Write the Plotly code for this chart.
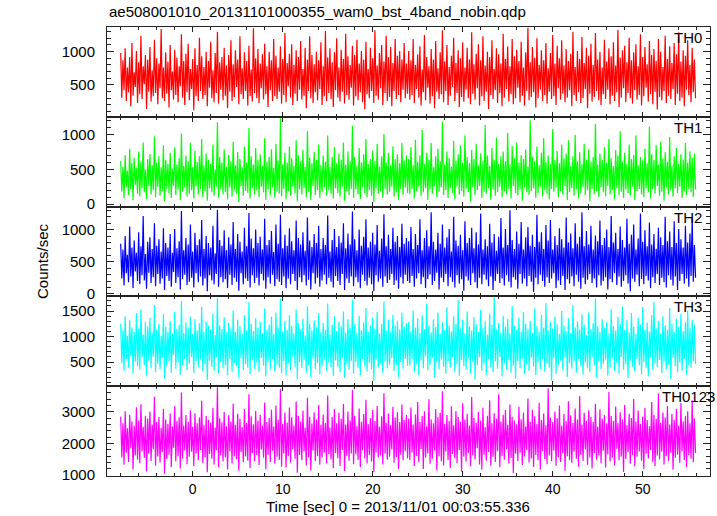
import plotly.graph_objects as go

# ---------------- data ----------------
T_START = -8.0    # sec, first sample
BIN = 0.125       # sec, sample spacing used here

TH0 = [
    980, 310, 870, 420, 1050, 260, 760, 390, 920, 180, 1130, 340, 690, 470, 1010, 230,
    840, 360, 1240, 290, 780, 510, 950, 140, 880, 400, 1070, 250, 720, 330, 1180, 380,
    900, 210, 820, 450, 1340, 300, 760, 260, 990, 370, 850, 160, 1100, 420, 700, 280,
    1030, 350, 910, 240, 780, 480, 1260, 310, 860, 200, 970, 390, 1120, 270, 740, 440,
    890, 120, 1050, 330, 800, 260, 1210, 410, 930, 290, 770, 350, 1000, 180, 860, 460,
    1150, 300, 720, 240, 980, 380, 1300, 220, 840, 430, 920, 270, 1060, 340, 790, 150,
    950, 400, 1170, 260, 810, 320, 1020, 470, 880, 210, 1230, 360, 750, 290, 990, 410,
    860, 190, 1090, 330, 730, 250, 1350, 380, 900, 300, 1040, 230, 820, 450, 960, 280,
    1120, 360, 780, 170, 1000, 420, 870, 260, 1190, 330, 940, 290, 760, 400, 1080, 220,
    890, 350, 1280, 240, 830, 480, 970, 310, 1110, 200, 800, 370, 1020, 260, 920, 430,
    1160, 280, 740, 340, 1060, 150, 880, 410, 1230, 300, 950, 230, 810, 390, 1000, 270,
    870, 440, 1140, 200, 780, 330, 1310, 260, 910, 380, 1050, 290, 840, 170, 990, 420,
    1200, 310, 760, 250, 1030, 400, 890, 220, 1270, 350, 930, 280, 800, 460, 1090, 190,
    950, 330, 1180, 270, 820, 390, 1010, 240, 880, 130, 1150, 360, 740, 300, 1060, 410,
    900, 230, 1320, 340, 790, 280, 980, 450, 1100, 200, 850, 380, 1240, 260, 920, 320,
    1070, 180, 830, 410, 1190, 290, 940, 350, 1010, 240, 880, 430, 1130, 300, 820, 370,
    1010, 280, 870, 350, 1190, 230, 800, 440, 960, 310, 1080, 190, 730, 390, 1250, 270,
    920, 460, 780, 220, 1040, 330, 880, 150, 1160, 400, 750, 290, 990, 360, 1320, 240,
    850, 410, 1100, 200, 770, 340, 940, 470, 1210, 260, 830, 380, 1020, 170, 900, 320,
    1140, 250, 760, 430, 1060, 300, 880, 210, 1290, 370, 810, 280, 970, 450, 1110, 190,
    870, 330, 1230, 260, 790, 400, 1000, 140, 920, 350, 1170, 290, 740, 420, 1050, 230,
    960, 380, 820, 180, 1270, 310, 890, 440, 1080, 250, 780, 360, 1190, 210, 930, 300,
    1030, 460, 860, 240, 1150, 340, 760, 190, 990, 410, 1360, 270, 840, 320, 1070, 390,
    910, 160, 1200, 300, 800, 430, 1020, 260, 870, 350, 1130, 220, 750, 400, 980, 290,
    1250, 330, 820, 200, 1090, 450, 900, 280, 1170, 370, 790, 240, 1040, 310, 860, 420,
    970, 180, 1300, 350, 770, 260, 1010, 390, 890, 230, 1220, 300, 830, 440, 1060, 150,
    940, 370, 1120, 250, 800, 320, 1280, 410, 880, 270, 1000, 200, 760, 360, 1180, 290,
    850, 430, 1050, 210, 930, 340, 1140, 260, 790, 390, 1330, 170, 910, 310, 1020, 450,
    1090, 240, 840, 380, 1210, 300, 870, 220, 990, 420, 1110, 280, 780, 350, 1260, 190,
    920, 330, 1070, 460, 810, 250, 1160, 360, 950, 210, 1040, 400, 860, 130, 1190, 320,
    1000, 270, 770, 410, 1240, 230, 890, 340, 1080, 290, 830, 440, 1130, 200, 960, 370,
    1290, 260, 850, 310, 1020, 180, 940, 430, 1170, 350, 800, 240, 1060, 390, 880, 300,
]

TH1 = [
    620, 180, 540, 90, 710, 240, 480, 130, 800, 210, 590, 60, 670, 280, 520, 150,
    760, 110, 610, 230, 890, 170, 500, 70, 650, 260, 720, 140, 560, 200, 980, 100,
    600, 250, 690, 120, 530, 190, 850, 40, 640, 220, 580, 160, 740, 90, 510, 270,
    820, 130, 570, 210, 660, 60, 1020, 180, 550, 240, 700, 110, 620, 150, 880, 200,
    530, 80, 770, 260, 610, 140, 690, 220, 940, 100, 560, 190, 730, 50, 640, 230,
    580, 170, 860, 120, 500, 250, 1180, 90, 680, 210, 600, 140, 790, 180, 540, 70,
    710, 240, 620, 110, 900, 200, 560, 150, 750, 30, 650, 260, 530, 120, 830, 190,
    600, 160, 1100, 80, 690, 230, 570, 140, 810, 200, 640, 100, 720, 250, 550, 170,
    950, 60, 610, 210, 680, 130, 790, 240, 520, 90, 870, 180, 630, 150, 1240, 110,
    570, 220, 740, 70, 600, 190, 830, 120, 660, 250, 550, 160, 920, 40, 700, 210,
    620, 140, 780, 230, 540, 100, 1050, 180, 670, 60, 590, 260, 750, 130, 640, 200,
    860, 90, 560, 170, 700, 240, 610, 120, 990, 200, 530, 150, 680, 80, 820, 230,
    590, 160, 730, 110, 640, 250, 890, 50, 570, 190, 760, 130, 620, 220, 1130, 90,
    680, 210, 550, 140, 810, 70, 600, 240, 720, 160, 940, 100, 580, 200, 650, 120,
    770, 30, 620, 230, 870, 150, 540, 190, 690, 90, 1010, 220, 600, 140, 740, 180,
    560, 250, 830, 110, 650, 170, 720, 60, 590, 210, 880, 130, 630, 240, 700, 160,
    650, 140, 820, 220, 560, 80, 930, 190, 610, 250, 700, 120, 1070, 170, 580, 230,
    740, 60, 640, 210, 880, 150, 530, 260, 690, 100, 800, 180, 620, 240, 1190, 130,
    570, 200, 760, 90, 660, 230, 540, 160, 910, 70, 630, 250, 720, 140, 850, 190,
    600, 110, 990, 220, 680, 170, 590, 40, 780, 240, 650, 130, 870, 200, 560, 260,
    730, 90, 620, 180, 1140, 150, 700, 230, 550, 60, 810, 210, 640, 120, 960, 170,
    580, 250, 690, 100, 760, 190, 620, 140, 1030, 220, 570, 80, 840, 260, 660, 160,
    890, 120, 600, 210, 710, 50, 650, 240, 790, 170, 540, 130, 1210, 190, 680, 230,
    620, 90, 830, 160, 560, 250, 740, 110, 950, 200, 610, 150, 700, 70, 580, 220,
    1080, 180, 640, 240, 770, 100, 590, 190, 860, 140, 660, 260, 730, 60, 920, 170,
    550, 230, 690, 120, 1000, 210, 620, 80, 750, 160, 580, 250, 870, 130, 640, 200,
    790, 40, 610, 220, 680, 150, 1160, 190, 570, 100, 730, 240, 640, 170, 820, 110,
    600, 260, 940, 140, 660, 200, 550, 70, 780, 230, 700, 130, 1050, 180, 620, 90,
    740, 210, 580, 160, 860, 120, 650, 250, 710, 60, 990, 190, 560, 220, 680, 140,
    630, 100, 800, 230, 590, 170, 1120, 80, 720, 210, 640, 150, 850, 260, 570, 120,
    900, 180, 660, 50, 750, 240, 610, 140, 970, 200, 550, 110, 690, 230, 810, 160,
    580, 250, 720, 90, 640, 190, 880, 130, 600, 220, 760, 170, 670, 100, 730, 210,
]

TH2 = [
    780, 240, 690, 130, 900, 320, 610, 180, 1050, 270, 720, 90, 830, 350, 640, 200,
    960, 150, 740, 290, 1210, 210, 620, 80, 810, 330, 880, 170, 700, 260, 1100, 120,
    750, 310, 850, 160, 660, 240, 1020, 60, 790, 280, 720, 200, 930, 110, 640, 340,
    1010, 170, 710, 260, 820, 70, 1290, 230, 680, 300, 870, 140, 770, 190, 1080, 250,
    660, 100, 950, 320, 760, 180, 850, 270, 1150, 130, 700, 240, 900, 40, 790, 290,
    720, 210, 1060, 150, 630, 310, 1310, 110, 840, 260, 750, 180, 990, 230, 680, 90,
    880, 300, 770, 140, 1120, 250, 700, 190, 930, 50, 810, 320, 660, 150, 1030, 240,
    740, 200, 1260, 100, 860, 290, 710, 170, 1000, 250, 790, 130, 890, 310, 690, 210,
    1170, 80, 760, 260, 840, 160, 980, 300, 650, 120, 1080, 230, 780, 190, 1230, 140,
    710, 270, 920, 90, 750, 240, 1020, 150, 820, 310, 680, 200, 1140, 60, 870, 260,
    770, 180, 960, 290, 670, 130, 1190, 220, 830, 70, 730, 320, 930, 160, 790, 250,
    1060, 110, 700, 210, 870, 300, 760, 150, 1220, 250, 660, 190, 840, 100, 1010, 280,
    730, 200, 900, 140, 800, 310, 1100, 60, 710, 240, 940, 170, 770, 270, 1280, 120,
    850, 260, 680, 180, 1000, 90, 750, 300, 890, 200, 1160, 130, 720, 250, 810, 150,
    950, 40, 770, 290, 1070, 190, 670, 240, 860, 110, 1240, 270, 740, 170, 920, 220,
    700, 310, 1030, 140, 810, 210, 900, 80, 730, 260, 1090, 160, 780, 300, 870, 200,
    820, 170, 1040, 280, 700, 110, 930, 240, 760, 320, 1160, 150, 680, 260, 870, 90,
    990, 230, 740, 300, 1270, 140, 810, 200, 690, 330, 950, 70, 780, 250, 1080, 180,
    720, 310, 880, 120, 1010, 260, 660, 190, 1200, 100, 830, 290, 750, 160, 920, 230,
    680, 50, 1130, 270, 790, 210, 870, 140, 1030, 320, 710, 180, 960, 90, 770, 250,
    1250, 150, 690, 300, 850, 220, 740, 120, 1090, 270, 800, 60, 930, 200, 670, 310,
    890, 170, 1180, 240, 720, 130, 1010, 290, 760, 190, 1300, 100, 840, 260, 700, 220,
    970, 80, 780, 310, 1120, 160, 690, 240, 880, 120, 1040, 280, 750, 190, 920, 30,
    730, 250, 1230, 150, 810, 300, 960, 200, 700, 110, 1070, 260, 830, 170, 1150, 240,
    690, 320, 900, 90, 760, 210, 1020, 140, 850, 280, 720, 60, 1190, 230, 800, 160,
    940, 270, 710, 120, 1100, 300, 780, 190, 890, 80, 1270, 250, 740, 150, 980, 220,
    770, 310, 1060, 170, 690, 240, 910, 100, 820, 290, 1140, 130, 760, 200, 870, 260,
    1000, 70, 730, 230, 1210, 180, 800, 320, 950, 140, 700, 270, 1050, 110, 840, 200,
    720, 290, 1170, 160, 780, 40, 920, 240, 1080, 190, 690, 300, 860, 120, 1250, 230,
    810, 150, 990, 280, 740, 210, 1110, 90, 770, 260, 930, 170, 700, 310, 1030, 140,
    880, 250, 760, 180, 1200, 100, 820, 290, 970, 220, 730, 130, 1130, 270, 790, 60,
    1010, 200, 850, 310, 720, 160, 1060, 240, 800, 110, 940, 280, 1180, 190, 760, 250,
]

TH3 = [
    1250, 480, 1120, 330, 1400, 560, 1010, 390, 1320, 620, 1180, 270, 1090, 510, 1460, 420,
    1160, 350, 1530, 590, 1040, 440, 1290, 230, 1200, 530, 1370, 380, 1080, 610, 1620, 300,
    1130, 470, 1250, 360, 1010, 580, 1440, 180, 1190, 420, 1100, 520, 1310, 290, 1060, 640,
    1480, 370, 1150, 490, 1230, 250, 1700, 430, 1070, 560, 1280, 340, 1170, 470, 1390, 600,
    1050, 280, 1340, 510, 1120, 400, 1260, 550, 1580, 320, 1090, 460, 1300, 150, 1210, 530,
    1140, 410, 1450, 330, 1030, 590, 1760, 270, 1220, 500, 1150, 380, 1380, 440, 1080, 240,
    1270, 560, 1160, 310, 1510, 480, 1090, 420, 1330, 200, 1200, 570, 1060, 350, 1420, 460,
    1120, 390, 1680, 260, 1250, 540, 1110, 370, 1360, 490, 1180, 300, 1290, 580, 1070, 430,
    1550, 220, 1140, 500, 1230, 360, 1390, 560, 1050, 310, 1470, 450, 1170, 390, 1740, 280,
    1100, 520, 1310, 240, 1130, 470, 1420, 340, 1210, 590, 1060, 410, 1530, 170, 1260, 500,
    1150, 380, 1350, 540, 1020, 290, 1600, 440, 1240, 210, 1120, 570, 1320, 360, 1180, 480,
    1460, 260, 1090, 420, 1270, 550, 1140, 330, 1650, 490, 1040, 400, 1230, 230, 1400, 530,
    1110, 410, 1290, 300, 1200, 580, 1490, 190, 1080, 460, 1340, 350, 1170, 520, 1720, 270,
    1240, 500, 1070, 390, 1410, 240, 1130, 560, 1280, 420, 1560, 310, 1100, 480, 1220, 360,
    1370, 130, 1160, 540, 1480, 400, 1060, 470, 1250, 280, 1690, 510, 1120, 380, 1330, 450,
    1090, 580, 1430, 320, 1210, 440, 1300, 210, 1140, 500, 1470, 370, 1190, 560, 1260, 430,
    1290, 430, 1100, 560, 1510, 300, 1180, 470, 1360, 240, 1070, 530, 1420, 380, 1150, 610,
    1640, 340, 1220, 450, 1080, 580, 1340, 200, 1190, 490, 1470, 360, 1050, 550, 1280, 410,
    1130, 270, 1570, 520, 1210, 390, 1100, 600, 1400, 310, 1250, 460, 1710, 230, 1160, 540,
    1330, 420, 1060, 350, 1490, 570, 1200, 280, 1120, 500, 1380, 160, 1240, 440, 1090, 590,
    1520, 330, 1170, 480, 1300, 250, 1040, 560, 1450, 400, 1230, 300, 1780, 510, 1140, 370,
    1270, 600, 1080, 220, 1410, 470, 1190, 350, 1350, 540, 1060, 290, 1600, 430, 1210, 180,
    1130, 520, 1370, 380, 1100, 570, 1480, 260, 1250, 450, 1150, 330, 1310, 590, 1070, 410,
    1550, 240, 1200, 500, 1090, 360, 1430, 550, 1180, 310, 1660, 470, 1120, 390, 1290, 140,
    1160, 580, 1390, 270, 1240, 440, 1050, 530, 1500, 340, 1220, 600, 1110, 210, 1360, 480,
    1070, 370, 1620, 510, 1180, 290, 1300, 560, 1140, 420, 1440, 250, 1230, 490, 1030, 380,
    1470, 300, 1150, 590, 1260, 430, 1750, 200, 1200, 520, 1090, 360, 1340, 470, 1170, 550,
    1280, 230, 1060, 400, 1530, 570, 1210, 320, 1120, 480, 1390, 270, 1250, 600, 1590, 350,
    1130, 460, 1320, 190, 1080, 530, 1460, 410, 1190, 310, 1050, 560, 1370, 440, 1230, 260,
    1580, 500, 1140, 380, 1270, 220, 1100, 590, 1420, 340, 1680, 470, 1160, 400, 1310, 540,
    1060, 280, 1400, 510, 1220, 360, 1130, 450, 1560, 170, 1240, 580, 1090, 420, 1350, 300,
    1190, 490, 1450, 330, 1110, 560, 1280, 250, 1510, 440, 1170, 390, 1330, 520, 1230, 460,
]

TH0123 = [
    2850, 1560, 2640, 1330, 3020, 1710, 2480, 1420, 2910, 1850, 2700, 1180, 2560, 1620, 3150, 1490,
    2730, 1380, 3240, 1760, 2520, 1550, 2880, 1120, 2790, 1680, 3010, 1450, 2600, 1820, 3480, 1300,
    2680, 1590, 2840, 1400, 2490, 1730, 3100, 1050, 2760, 1510, 2620, 1650, 2950, 1260, 2540, 1870,
    3180, 1440, 2710, 1600, 2830, 1210, 3610, 1530, 2570, 1780, 2900, 1350, 2690, 1580, 3050, 1740,
    2530, 1280, 2960, 1690, 2640, 1470, 2820, 1800, 3350, 1390, 2580, 1560, 2870, 1090, 2740, 1670,
    2660, 1520, 3120, 1340, 2510, 1790, 3780, 1250, 2800, 1620, 2670, 1430, 3000, 1570, 2550, 1180,
    2890, 1760, 2700, 1370, 3260, 1600, 2590, 1500, 2940, 1140, 2780, 1730, 2520, 1410, 3090, 1590,
    2650, 1460, 3560, 1230, 2860, 1700, 2610, 1440, 3030, 1640, 2720, 1320, 2910, 1810, 2570, 1550,
    3300, 1190, 2680, 1650, 2810, 1420, 3070, 1770, 2540, 1360, 3200, 1580, 2750, 1480, 3720, 1270,
    2620, 1690, 2980, 1240, 2660, 1610, 3140, 1400, 2830, 1820, 2560, 1520, 3330, 1080, 2870, 1640,
    2700, 1470, 3040, 1750, 2500, 1310, 3450, 1570, 2850, 1150, 2630, 1780, 2990, 1450, 2760, 1600,
    3220, 1330, 2590, 1560, 2920, 1720, 2650, 1380, 3520, 1660, 2510, 1500, 2840, 1220, 3080, 1700,
    2640, 1540, 2970, 1290, 2780, 1800, 3250, 1130, 2600, 1610, 3010, 1460, 2730, 1690, 3680, 1350,
    2880, 1660, 2550, 1480, 3110, 1260, 2690, 1790, 2930, 1530, 3380, 1370, 2620, 1640, 2800, 1430,
    3060, 1100, 2710, 1720, 3190, 1560, 2530, 1620, 2860, 1340, 3590, 1680, 2660, 1490, 2950, 1580,
    2580, 1810, 3160, 1390, 2820, 1570, 2990, 1200, 2680, 1650, 3230, 1470, 2740, 1760, 2900, 1540,
    2790, 1480, 3140, 1720, 2600, 1290, 2920, 1610, 3310, 1410, 2680, 1830, 2870, 1200, 3020, 1560,
    2550, 1690, 3400, 1360, 2760, 1520, 2640, 1780, 3090, 1150, 2830, 1600, 2970, 1440, 3650, 1310,
    2620, 1750, 2900, 1480, 2710, 1230, 3180, 1670, 2580, 1540, 3030, 1380, 2840, 1800, 2690, 1110,
    3270, 1590, 2750, 1430, 2940, 1700, 2570, 1280, 3470, 1620, 2810, 1500, 2660, 1850, 3000, 1340,
    2730, 1170, 3130, 1650, 2520, 1460, 2880, 1730, 3370, 1300, 2640, 1580, 2960, 1420, 2780, 1760,
    3560, 1250, 2700, 1610, 2910, 1490, 3060, 1820, 2590, 1370, 3230, 1540, 2850, 1060, 2730, 1680,
    2610, 1450, 3160, 1710, 2770, 1320, 2980, 1590, 2540, 1790, 3420, 1400, 2690, 1530, 3070, 1260,
    2860, 1640, 2620, 1470, 3290, 1180, 2740, 1760, 2950, 1510, 2580, 1350, 3750, 1620, 2820, 1440,
    2670, 1780, 3010, 1300, 2800, 1570, 3200, 1420, 2560, 1690, 2930, 1140, 2710, 1600, 3340, 1480,
    2890, 1390, 2650, 1740, 3110, 1520, 2760, 1270, 3500, 1650, 2600, 1450, 2970, 1810, 2720, 1330,
    3050, 1560, 2840, 1210, 2680, 1700, 3260, 1490, 2530, 1620, 3080, 1380, 2790, 1770, 2900, 1240,
    2630, 1660, 3630, 1430, 2870, 1550, 2710, 1310, 3170, 1840, 2640, 1470, 2990, 1590, 2760, 1100,
    3220, 1510, 2580, 1730, 2940, 1360, 2810, 1640, 3410, 1280, 2690, 1580, 3040, 1750, 2620, 1460,
    2850, 1200, 3120, 1680, 2740, 1530, 2550, 1800, 3310, 1410, 2910, 1290, 2780, 1620, 3580, 1500,
    2660, 1740, 2980, 1340, 2820, 1610, 3190, 1440, 2600, 1710, 2930, 1170, 2750, 1550, 3100, 1650,
    2570, 1390, 3280, 1760, 2700, 1480, 2880, 1250, 3020, 1630, 2640, 1520, 3360, 1410, 2790, 1700,
]

PANEL_LABELS = ["TH0", "TH1", "TH2", "TH3", "TH0123"]
TITLE = "ae508001010_20131101000355_wam0_bst_4band_nobin.qdp"
X_TITLE = "Time [sec] 0 = 2013/11/01 00:03:55.336"
Y_TITLE = "Counts/sec"

# ---------------- styling ----------------
COLORS = ["#ff0000", "#00ff00", "#0000ff", "#00ffff", "#ff00ff"]
Y_RANGES = [[22, 1370], [-36, 1260], [-39, 1358], [27, 1788], [975, 3812]]
Y_DTICK = [500, 500, 500, 500, 1000]
Y_MINOR = [100, 100, 100, 100, 200]
X_RANGE = [-9.52, 57.48]
FONT = "Liberation Sans, Arial, Helvetica, sans-serif"
AXCOL = "#222222"

series = [TH0, TH1, TH2, TH3, TH0123]
time = [T_START + i * BIN for i in range(len(TH0))]

W, H = 717, 516
ML, MR, MT, MB = 107, 7, 27, 40
PW = W - ML - MR
PH = H - MT - MB

fig = go.Figure()
layout = {}
n = len(series)
for i in range(n):
    sfx = "" if i == 0 else str(i + 1)
    fig.add_trace(go.Scatter(
        x=time, y=series[i], mode="lines",
        line=dict(color=COLORS[i], width=1.2),
        xaxis="x" + sfx, yaxis="y" + sfx,
        showlegend=False, hoverinfo="skip",
    ))
    top = 1 - i / n
    bot = 1 - (i + 1) / n
    layout["xaxis" + sfx] = dict(
        domain=[0, 1], anchor="y" + sfx, range=X_RANGE, automargin=False,
        tick0=0, dtick=10, ticks="inside", ticklen=5, tickwidth=1,
        tickcolor=AXCOL, showline=True, linecolor=AXCOL, linewidth=1,
        mirror="ticks", showgrid=False, zeroline=False,
        showticklabels=(i == n - 1),
        minor=dict(dtick=2, tick0=0, ticks="inside", ticklen=3,
                   tickcolor=AXCOL, showgrid=False),
        tickfont=dict(family=FONT, size=14, color="black"),
    )
    layout["yaxis" + sfx] = dict(
        domain=[bot, top], anchor="x" + sfx, range=Y_RANGES[i], automargin=False,
        tick0=0, dtick=Y_DTICK[i], ticks="inside", ticklen=7, tickwidth=1,
        tickcolor=AXCOL, showline=True, linecolor=AXCOL, linewidth=1,
        mirror="ticks", showgrid=False, zeroline=False,
        minor=dict(dtick=Y_MINOR[i], tick0=0, ticks="inside", ticklen=4,
                   tickcolor=AXCOL, showgrid=False),
        tickfont=dict(family=FONT, size=15, color="black"),
        ticklabelstandoff=8,
    )

annotations = []
for i in range(n):
    top = 1 - i / n
    annotations.append(dict(
        text=PANEL_LABELS[i], xref="paper", yref="paper",
        x=(688 - ML) / PW, y=top - 10.5 / PH, xanchor="center", yanchor="middle",
        showarrow=False, font=dict(family=FONT, size=15, color="black"),
    ))
annotations.append(dict(
    text=TITLE, xref="paper", yref="paper",
    x=0, y=1 + 15 / PH, xanchor="left", yanchor="middle",
    showarrow=False, font=dict(family=FONT, size=15, color="black"),
))
annotations.append(dict(
    text=X_TITLE, xref="paper", yref="paper",
    x=(398 - ML) / PW, y=-(506.5 - (MT + PH)) / PH, xanchor="center", yanchor="middle",
    showarrow=False, font=dict(family=FONT, size=15, color="black"),
))
annotations.append(dict(
    text=Y_TITLE, xref="paper", yref="paper", textangle=-90,
    x=(42 - ML) / PW, y=(MT + PH - 261) / PH, xanchor="center", yanchor="middle",
    showarrow=False, font=dict(family=FONT, size=15, color="black"),
))

fig.update_layout(
    width=W, height=H,
    margin=dict(l=ML, r=MR, t=MT, b=MB, pad=0),
    paper_bgcolor="white", plot_bgcolor="white",
    font=dict(family=FONT, size=15, color="black"),
    annotations=annotations,
    **layout,
)

fig.write_html(
    "out.html",
    config={"displayModeBar": False},
    post_script="document.body.style.margin='0px';",
)
